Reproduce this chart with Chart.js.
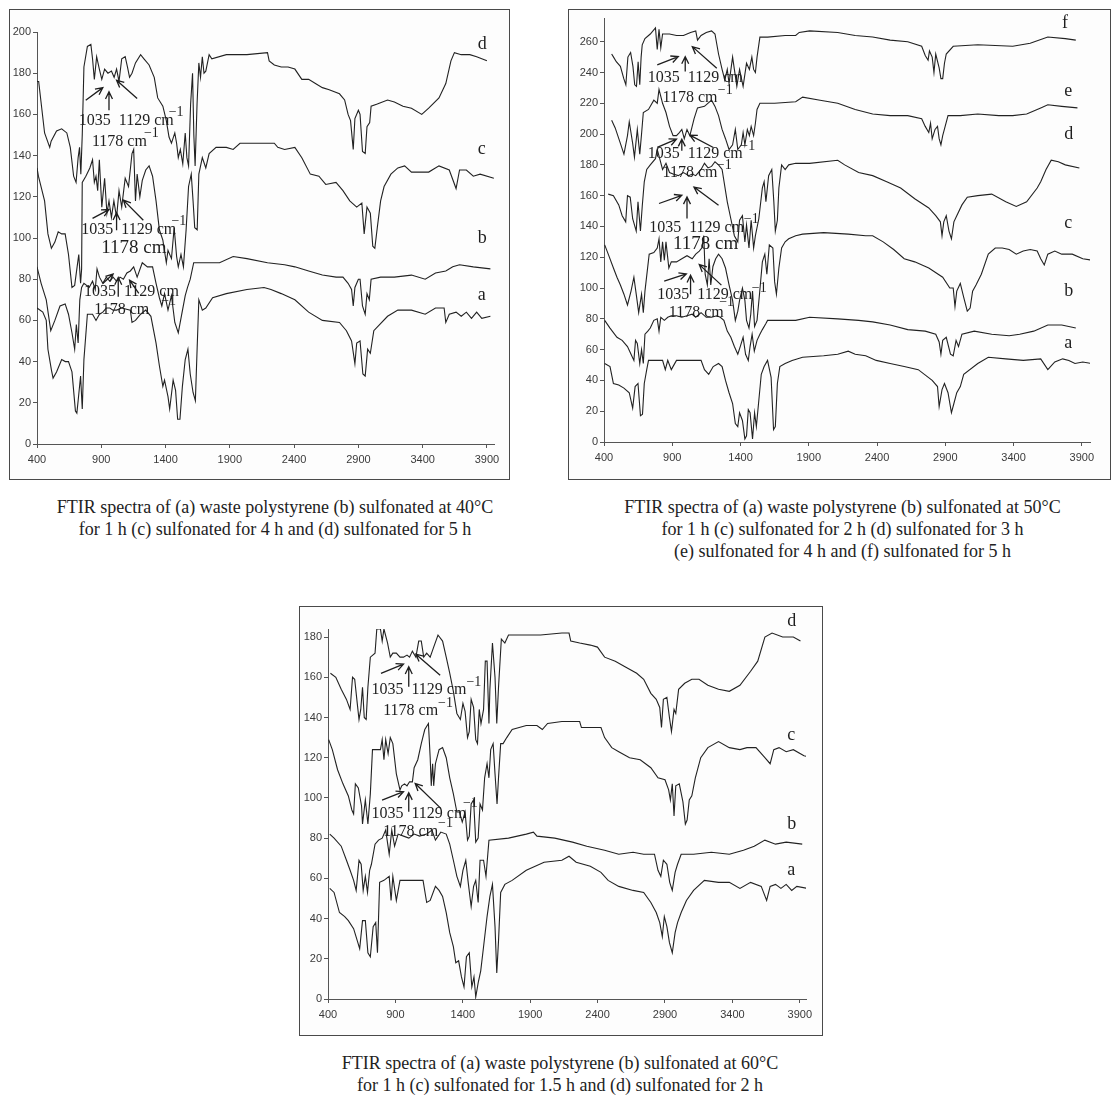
<!DOCTYPE html>
<html>
<head>
<meta charset="utf-8">
<script src="https://cdn.jsdelivr.net/npm/chart.js@4.4.0/dist/chart.umd.min.js"></script>
<style>
  body { margin: 0; background: #fff; width: 1115px; height: 1096px; position: relative; overflow: hidden; }
  .frame { position: absolute; border: 1px solid #4a4a4a; background: #fdfdfd; }
  .frame canvas { display: block; }
  .cap { position: absolute; font-family: "Liberation Serif", "Times New Roman", serif; font-size: 18px;
         color: #222; text-align: center; line-height: 22px; white-space: nowrap; }
</style>
</head>
<body>

<div class="frame" style="left:9px;top:9px;width:499px;height:469px"><canvas id="c40" width="499" height="469"></canvas></div>
<div class="frame" style="left:568px;top:9px;width:541px;height:469px"><canvas id="c50" width="541" height="469"></canvas></div>
<div class="frame" style="left:299px;top:606px;width:522px;height:428px"><canvas id="c60" width="522" height="428"></canvas></div>

<div class="cap" style="left:0px;top:496px;width:550px">FTIR spectra of (a) waste polystyrene (b) sulfonated at 40°C<br>for 1 h (c) sulfonated for 4 h and (d) sulfonated for 5 h</div>
<div class="cap" style="left:570px;top:496px;width:545px">FTIR spectra of (a) waste polystyrene (b) sulfonated at 50°C<br>for 1 h (c) sulfonated for 2 h (d) sulfonated for 3 h<br>(e) sulfonated for 4 h and (f) sulfonated for 5 h</div>
<div class="cap" style="left:285px;top:1052px;width:550px">FTIR spectra of (a) waste polystyrene (b) sulfonated at 60°C<br>for 1 h (c) sulfonated for 1.5 h and (d) sulfonated for 2 h</div>

<script>
// tick labels
const xTicks = [400, 900, 1400, 1900, 2400, 2900, 3400, 3900];
const yTicks40 = [0, 20, 40, 60, 80, 100, 120, 140, 160, 180, 200];
const yTicks50 = [0, 20, 40, 60, 80, 100, 120, 140, 160, 180, 200, 220, 240, 260];
const yTicks60 = [0, 20, 40, 60, 80, 100, 120, 140, 160, 180];

// 40 °C spectra  [wavenumber, transmittance]
const s40a = [[400,66],[445,64],[472,60],[485,46],[512,36],[525,32],[552,35],[592,41],[620,40],[645,40],[672,35],[699,16],[710,15],[720,21],[739,33],[752,17],[765,41],[792,63],[832,63],[859,60],[886,63],[912,64],[939,66],[966,66],[992,65],[1019,65],[1059,66],[1126,65],[1139,59],[1166,60],[1206,63],[1246,65],[1286,62],[1326,49],[1352,38],[1379,28],[1392,31],[1419,23],[1432,17],[1459,31],[1478,26],[1494,12],[1512,12],[1531,28],[1553,41],[1574,46],[1592,34],[1614,25],[1632,21],[1646,47],[1659,70],[1686,65],[1713,66],[1766,71],[1873,73],[2033,75],[2166,76],[2220,75],[2300,73],[2406,70],[2513,64],[2620,60],[2753,59],[2807,55],[2847,50],[2873,39],[2887,49],[2913,50],[2935,34],[2953,33],[2972,46],[2993,44],[3020,55],[3127,62],[3207,65],[3313,65],[3420,63],[3500,66],[3567,66],[3580,59],[3607,63],[3660,64],[3700,62],[3740,64],[3780,61],[3820,64],[3860,61],[3927,62]];
const s40b = [[400,86],[432,78],[472,70],[507,55],[539,60],[579,67],[619,68],[645,63],[672,54],[693,46],[706,58],[720,49],[733,70],[747,76],[765,78],[806,76],[832,79],[853,75],[867,85],[886,81],[912,78],[939,81],[966,79],[992,81],[1019,79],[1046,81],[1072,80],[1099,83],[1126,84],[1152,86],[1179,81],[1219,88],[1259,86],[1299,86],[1326,78],[1352,71],[1371,67],[1392,73],[1419,65],[1446,72],[1472,59],[1499,54],[1526,63],[1553,72],[1571,76],[1592,80],[1619,88],[1820,88],[1926,91],[2033,90],[2193,88],[2326,87],[2406,86],[2513,84],[2620,82],[2727,81],[2780,81],[2820,78],[2847,75],[2860,67],[2873,76],[2900,80],[2913,80],[2932,67],[2953,63],[2967,73],[2985,70],[2999,80],[3073,81],[3180,81],[3313,82],[3420,80],[3500,83],[3580,84],[3634,86],[3687,87],[3794,86],[3927,85]];
const s40c = [[400,134],[411,130],[459,118],[485,102],[512,95],[539,98],[565,103],[592,102],[619,102],[645,92],[672,76],[693,77],[712,86],[725,92],[739,78],[747,85],[752,127],[780,130],[811,134],[832,138],[846,127],[859,130],[872,123],[885,138],[904,115],[926,129],[944,112],[960,118],[979,110],[998,118],[1019,110],[1038,123],[1059,115],[1086,129],[1112,125],[1139,141],[1152,143],[1166,118],[1179,131],[1200,120],[1219,128],[1246,133],[1272,135],[1299,130],[1326,118],[1352,104],[1379,99],[1406,88],[1419,94],[1446,90],[1467,105],[1486,91],[1499,86],[1520,92],[1539,86],[1560,104],[1579,125],[1600,131],[1614,118],[1627,105],[1646,104],[1659,131],[1686,139],[1713,134],[1739,141],[1793,144],[1873,144],[1926,143],[1979,146],[2033,146],[2246,146],[2273,144],[2326,143],[2406,144],[2460,139],[2526,131],[2593,130],[2646,126],[2726,127],[2780,123],[2833,118],[2887,115],[2927,117],[2945,102],[2967,115],[2993,112],[3012,96],[3028,95],[3047,105],[3073,118],[3100,125],[3153,131],[3207,134],[3260,135],[3313,132],[3393,132],[3447,132],[3527,135],[3607,133],[3660,124],[3687,133],[3740,133],[3794,130],[3847,131],[3954,129]];
const s40d = [[400,176],[413,176],[459,151],[499,144],[510,147],[552,152],[592,153],[632,151],[659,144],[685,130],[704,127],[720,139],[731,144],[741,131],[752,150],[765,183],[792,193],[819,194],[832,187],[846,177],[864,188],[885,182],[904,177],[926,182],[952,180],[979,181],[1000,178],[1019,182],[1038,176],[1059,187],[1086,188],[1104,183],[1120,178],[1139,180],[1166,185],[1206,189],[1232,187],[1272,184],[1312,178],[1339,168],[1379,164],[1406,157],[1427,149],[1446,146],[1472,151],[1486,146],[1499,139],[1515,143],[1534,136],[1553,151],[1566,139],[1579,135],[1595,165],[1610,180],[1620,150],[1630,135],[1645,165],[1659,185],[1672,178],[1686,188],[1699,180],[1713,181],[1739,189],[1760,187],[1873,189],[2033,189],[2193,190],[2206,186],[2246,184],[2300,183],[2353,183],[2406,182],[2460,177],[2513,177],[2566,175],[2620,173],[2673,172],[2753,170],[2793,167],[2820,160],[2839,157],[2860,143],[2873,158],[2900,162],[2913,160],[2932,142],[2953,141],[2967,154],[2988,156],[2999,164],[3047,165],[3127,167],[3180,166],[3247,164],[3313,163],[3393,160],[3447,163],[3527,168],[3580,175],[3620,186],[3647,190],[3700,189],[3767,189],[3820,188],[3900,186]];

// 50 °C spectra
const s50a = [[405,51],[444,49],[469,38],[508,37],[546,35],[585,32],[610,22],[628,36],[649,38],[667,17],[682,18],[695,38],[713,47],[726,53],[777,53],[829,53],[849,47],[867,53],[893,47],[931,53],[982,53],[1060,53],[1111,53],[1136,47],[1167,44],[1200,49],[1239,51],[1265,49],[1290,40],[1316,32],[1342,25],[1362,12],[1380,10],[1393,19],[1414,14],[1432,2],[1444,4],[1457,21],[1470,19],[1488,2],[1503,19],[1516,10],[1534,27],[1552,44],[1573,49],[1598,53],[1624,42],[1642,8],[1655,10],[1670,38],[1688,49],[1727,51],[1778,53],[1855,55],[2009,56],[2112,57],[2189,59],[2240,57],[2317,56],[2394,53],[2496,51],[2599,49],[2702,47],[2804,40],[2843,36],[2855,23],[2876,34],[2894,38],[2920,32],[2945,19],[2963,25],[2984,32],[3010,36],[3035,44],[3138,51],[3215,55],[3343,54],[3471,53],[3599,54],[3651,47],[3702,52],[3760,54],[3805,53],[3850,51],[3907,52],[3970,51]];
const s50b = [[405,79],[444,74],[495,68],[533,66],[572,62],[598,57],[619,53],[631,66],[644,64],[662,51],[675,60],[688,51],[700,70],[721,72],[739,74],[765,79],[790,80],[803,72],[816,81],[842,79],[867,81],[893,82],[931,82],[970,81],[1008,82],[1046,83],[1072,81],[1111,84],[1149,81],[1188,81],[1226,82],[1252,81],[1278,79],[1303,72],[1329,68],[1355,62],[1380,57],[1398,62],[1419,68],[1437,57],[1457,53],[1470,62],[1485,70],[1501,59],[1521,66],[1542,70],[1560,73],[1586,77],[1598,79],[1804,79],[1906,81],[2112,80],[2265,79],[2368,78],[2496,76],[2625,73],[2753,72],[2830,70],[2855,65],[2868,57],[2881,66],[2907,68],[2938,57],[2958,56],[2979,66],[2997,62],[3022,70],[3112,72],[3240,70],[3368,69],[3445,70],[3548,72],[3651,76],[3753,76],[3856,74]];
const s50c = [[405,128],[431,122],[469,113],[495,107],[520,102],[546,96],[572,89],[598,98],[619,107],[636,96],[654,84],[675,96],[688,84],[700,98],[731,122],[765,123],[790,126],[803,132],[816,117],[829,130],[842,118],[854,130],[875,113],[893,117],[931,117],[970,119],[1008,121],[1046,119],[1072,122],[1098,124],[1116,126],[1131,134],[1141,109],[1157,102],[1170,119],[1182,102],[1198,114],[1218,119],[1239,122],[1265,119],[1290,113],[1316,102],[1342,92],[1362,79],[1380,85],[1393,92],[1414,100],[1432,92],[1444,79],[1462,74],[1475,83],[1488,98],[1503,75],[1521,79],[1539,96],[1560,117],[1578,122],[1593,109],[1611,128],[1637,126],[1650,104],[1663,96],[1681,113],[1701,126],[1727,130],[1753,132],[1804,134],[1855,135],[2009,136],[2189,135],[2317,134],[2368,134],[2445,130],[2522,125],[2599,119],[2676,117],[2779,113],[2881,107],[2933,100],[2958,100],[2971,88],[2984,98],[3010,103],[3035,94],[3061,85],[3082,87],[3100,98],[3125,102],[3164,109],[3215,122],[3266,126],[3317,126],[3368,125],[3420,122],[3471,124],[3522,125],[3573,124],[3599,119],[3625,115],[3651,122],[3702,124],[3753,122],[3830,122],[3907,119],[3985,118]];
const s50d = [[431,161],[469,160],[508,154],[533,147],[559,143],[572,160],[592,159],[610,145],[636,137],[649,156],[667,137],[680,153],[695,169],[713,177],[739,180],[777,184],[790,190],[808,184],[829,177],[854,181],[880,175],[906,174],[944,173],[982,175],[1021,173],[1046,174],[1072,173],[1111,177],[1136,181],[1162,178],[1188,179],[1213,182],[1239,180],[1265,177],[1303,156],[1329,145],[1355,134],[1380,130],[1393,144],[1414,147],[1432,130],[1444,141],[1462,126],[1478,144],[1496,126],[1509,134],[1534,145],[1560,165],[1573,169],[1586,156],[1606,173],[1629,177],[1644,156],[1655,137],[1670,144],[1681,165],[1701,180],[1727,177],[1753,180],[1804,181],[1906,181],[2112,183],[2163,180],[2265,175],[2368,173],[2471,169],[2573,165],[2676,158],[2779,152],[2830,147],[2864,143],[2876,134],[2889,143],[2907,147],[2927,137],[2945,132],[2963,143],[2984,147],[3022,154],[3061,159],[3138,160],[3240,161],[3343,156],[3420,153],[3496,156],[3573,165],[3599,169],[3638,177],[3676,183],[3728,182],[3779,180],[3882,178]];
const s50e = [[456,209],[482,204],[520,194],[546,187],[572,199],[585,208],[610,194],[623,185],[644,203],[662,187],[675,200],[688,214],[726,216],[765,222],[790,220],[803,229],[829,220],[854,214],[880,205],[906,199],[931,199],[952,201],[970,203],[988,197],[1008,203],[1029,199],[1060,210],[1085,217],[1136,218],[1188,222],[1213,218],[1239,212],[1265,203],[1290,197],[1316,190],[1342,193],[1362,203],[1380,190],[1406,193],[1419,201],[1432,193],[1450,203],[1465,199],[1478,205],[1496,199],[1509,207],[1521,216],[1542,220],[1650,220],[1804,221],[1855,224],[1983,222],[2112,220],[2240,216],[2368,213],[2496,212],[2625,212],[2727,210],[2753,205],[2779,201],[2792,207],[2804,197],[2825,203],[2843,205],[2855,197],[2868,193],[2881,199],[2899,205],[2920,212],[3010,212],[3138,213],[3292,212],[3394,212],[3496,213],[3599,217],[3651,219],[3753,218],[3868,217]];
const s50f = [[456,252],[470,250],[490,247],[520,244],[545,236],[560,232],[575,250],[595,253],[612,244],[625,232],[638,231],[650,247],[662,232],[672,250],[680,258],[700,262],[739,265],[777,269],[790,255],[803,268],[816,256],[829,265],[880,265],[931,264],[982,264],[1034,266],[1072,267],[1085,261],[1111,264],[1149,266],[1188,267],[1213,265],[1239,252],[1265,242],[1285,235],[1303,242],[1316,233],[1342,250],[1355,242],[1373,231],[1393,242],[1419,231],[1444,246],[1465,242],[1483,250],[1496,242],[1509,240],[1521,250],[1542,263],[1598,263],[1727,264],[1804,264],[1830,266],[1906,267],[2112,266],[2240,264],[2368,263],[2496,261],[2625,260],[2727,257],[2753,251],[2774,248],[2784,254],[2804,250],[2817,240],[2830,252],[2855,243],[2868,236],[2881,236],[2894,246],[2907,252],[2958,257],[3138,258],[3394,257],[3522,259],[3651,263],[3779,262],[3856,261]];

// 60 °C spectra
const s60a = [[413,55],[445,53],[485,43],[524,41],[551,39],[590,35],[617,29],[635,25],[656,39],[677,39],[696,23],[714,21],[735,36],[754,38],[767,23],[783,58],[815,59],[854,61],[868,49],[881,61],[907,49],[934,59],[973,59],[1026,59],[1105,59],[1132,48],[1158,49],[1197,56],[1224,54],[1250,51],[1277,43],[1303,33],[1330,26],[1348,18],[1369,19],[1390,11],[1409,6],[1427,21],[1448,23],[1467,6],[1483,11],[1496,1],[1514,8],[1533,14],[1554,26],[1580,41],[1601,51],[1620,57],[1639,36],[1652,13],[1665,29],[1681,53],[1712,57],[1766,59],[1871,64],[2003,68],[2135,69],[2188,71],[2241,68],[2346,66],[2425,63],[2478,59],[2557,56],[2663,54],[2742,53],[2795,48],[2835,43],[2861,38],[2880,31],[2895,41],[2914,36],[2933,28],[2954,23],[2975,33],[2993,38],[3020,43],[3059,49],[3112,54],[3192,59],[3297,58],[3377,58],[3456,55],[3535,58],[3614,56],[3654,49],[3680,56],[3720,57],[3760,55],[3799,57],[3840,54],[3878,56],[3957,55]];
const s60b = [[413,82],[445,80],[498,76],[537,69],[564,64],[590,59],[609,54],[630,69],[646,67],[661,54],[677,61],[693,53],[709,64],[722,67],[749,77],[775,79],[802,80],[828,84],[854,72],[873,84],[894,76],[920,82],[960,81],[1000,80],[1039,82],[1079,81],[1132,82],[1171,84],[1197,79],[1237,83],[1277,82],[1303,77],[1330,69],[1356,61],[1382,56],[1401,64],[1422,69],[1440,58],[1462,46],[1480,56],[1496,59],[1514,48],[1528,69],[1554,69],[1572,61],[1594,79],[1739,80],[1871,82],[1924,83],[1950,81],[2082,80],[2214,78],[2320,76],[2452,74],[2557,72],[2663,73],[2742,72],[2822,72],[2848,64],[2869,61],[2888,69],[2914,67],[2935,58],[2954,54],[2975,63],[2993,67],[3020,72],[3112,72],[3244,73],[3377,72],[3482,74],[3562,76],[3641,79],[3720,77],[3799,78],[3918,77]];
const s60c = [[405,129],[432,124],[471,114],[511,107],[551,101],[577,94],[590,92],[603,107],[625,105],[649,96],[656,87],[677,99],[696,87],[714,102],[730,124],[762,124],[789,124],[802,129],[815,119],[828,129],[846,122],[862,130],[881,127],[907,112],[934,104],[947,106],[968,107],[986,106],[1005,108],[1026,108],[1039,115],[1066,119],[1092,127],[1118,134],[1145,137],[1158,120],[1166,106],[1176,117],[1184,106],[1197,117],[1224,124],[1250,125],[1277,120],[1303,110],[1330,102],[1356,93],[1375,93],[1396,88],[1417,93],[1435,79],[1448,81],[1462,97],[1480,99],[1496,78],[1514,80],[1528,97],[1546,94],[1562,110],[1580,117],[1594,110],[1607,124],[1625,127],[1639,112],[1654,97],[1665,110],[1681,127],[1699,127],[1726,130],[1766,134],[1871,136],[1950,136],[1990,134],[2029,137],[2135,138],[2267,138],[2280,135],[2346,135],[2425,135],[2452,130],[2505,125],[2557,123],[2637,120],[2716,119],[2795,115],[2848,110],[2900,109],[2927,104],[2940,99],[2954,107],[2967,91],[2980,106],[3006,107],[3033,98],[3051,87],[3064,89],[3080,99],[3099,101],[3125,110],[3165,120],[3218,125],[3297,128],[3377,125],[3456,124],[3508,125],[3575,125],[3641,120],[3680,117],[3707,124],[3746,125],[3799,123],[3852,124],[3931,121],[3984,120]];
const s60d = [[418,162],[458,160],[498,154],[537,149],[564,144],[582,160],[598,159],[617,147],[630,139],[643,144],[656,155],[669,140],[683,139],[696,155],[714,170],[749,172],[762,184],[789,184],[802,178],[815,184],[842,177],[862,170],[881,172],[907,172],[934,170],[960,170],[986,171],[1005,170],[1026,173],[1052,170],[1073,178],[1092,178],[1110,170],[1132,172],[1158,170],[1184,175],[1216,181],[1250,178],[1277,170],[1303,162],[1330,153],[1356,142],[1382,139],[1401,147],[1417,143],[1435,130],[1448,133],[1462,149],[1480,145],[1496,129],[1509,127],[1522,144],[1535,137],[1554,144],[1567,168],[1580,168],[1594,137],[1601,154],[1620,177],[1639,160],[1652,137],[1665,155],[1686,179],[1712,177],[1739,181],[1766,181],[1871,181],[1977,181],[2135,182],[2188,182],[2201,178],[2267,177],[2346,176],[2399,175],[2452,170],[2531,168],[2610,165],[2690,162],[2742,159],[2795,152],[2835,149],[2861,145],[2874,135],[2888,149],[2914,150],[2933,140],[2948,133],[2967,144],[2980,142],[3001,154],[3046,157],[3099,159],[3152,159],[3218,156],[3297,154],[3377,153],[3456,156],[3535,163],[3588,168],[3641,180],[3694,182],[3773,180],[3852,180],[3905,178]];

// peak annotations: text at [x, y] in data units, arrows as [x1, y1, x2, y2] (tail -> head)
const M = '\u22121';
const notes40 = [
  ['1035  1129 cm', 725, 157, 16], [M, 1424, 161, 14], ['1178 cm', 827, 146.6, 16], [M, 1232, 151, 14],
  ['1035  1129 cm', 744, 104, 16], [M, 1446, 108, 14], ['1178 cm', 899, 95, 19],
  ['1035  1129 cm', 765, 74, 16], [M, 1366, 69.5, 14], ['1178 cm', 846, 65, 16],
  ['d', 3829, 194, 18], ['c', 3829, 143, 18], ['b', 3829, 100, 18], ['a', 3829, 72, 18]
];
const arrows40 = [
  [779, 166.9, 912, 173], [960, 162, 960, 171], [1179, 167.7, 1019, 176.6],
  [832, 109.5, 960, 113.8], [1019, 103.8, 1019, 112.2], [1227, 108.6, 1072, 118.4],
  [912, 77.9, 992, 82.5], [1032, 71.5, 1032, 80.8], [1192, 73.1, 1120, 79.5]
];
const notes50 = [
  ['1035  1129 cm', 721, 236.4, 16], [M, 1234, 228.4, 14], ['1178 cm', 829, 223.5, 16],
  ['1035  1129 cm', 721, 187, 16], [M, 1398, 192, 14], ['1178 cm', 829, 174.8, 16], [M, 1226, 180, 14],
  ['1035  1129 cm', 731, 139.2, 16], [M, 1424, 144.8, 14], ['1178 cm', 905, 128.5, 19],
  ['1035  1129 cm', 790, 95.9, 16], [M, 1483, 99.7, 14], ['1178 cm', 875, 84.1, 16], [M, 1244, 90.5, 14],
  ['f', 3754, 272, 18], ['e', 3772, 228, 18], ['d', 3772, 200, 18], ['c', 3772, 142, 18], ['b', 3772, 98, 18], ['a', 3772, 64, 18]
];
const arrows50 = [
  [790, 245, 944, 250.3], [995, 240.7, 995, 250.3], [1226, 242.8, 1047, 256.8],
  [790, 191.3, 931, 196.7], [970, 189.2, 970, 196.7], [1201, 191.3, 1029, 199.3],
  [803, 154.9, 970, 160.2], [1008, 145.2, 1008, 159.2], [1239, 153.8, 1059, 165.6],
  [841, 104.5, 1003, 109.2], [1034, 95.9, 1034, 108.3], [1260, 101.9, 1098, 115.2]
];
const notes60 = [
  ['1035  1129 cm', 722, 153.6, 16], [M, 1427, 157.7, 14], ['1178 cm', 809, 143.2, 16], [M, 1216, 147, 14],
  ['1035  1129 cm', 722, 92.3, 16], [M, 1401, 97.3, 14], ['1178 cm', 809, 83.2, 16], [M, 1216, 87.3, 14],
  ['d', 3807, 187.6, 18], ['c', 3807, 131, 18], ['b', 3807, 87, 18], ['a', 3807, 64, 18]
];
const arrows60 = [
  [793, 161.9, 960, 166.5], [999, 155.3, 999, 165.2], [1232, 161, 1052, 171.5],
  [801, 98.9, 960, 103.1], [999, 93.1, 999, 102.6], [1237, 94.8, 1047, 107.2]
];

function drawArrow(ctx, x1, y1, x2, y2) {
  const ang = Math.atan2(y2 - y1, x2 - x1);
  const L = 8, w = 0.45;
  ctx.beginPath();
  ctx.moveTo(x1, y1);
  ctx.lineTo(x2, y2);
  ctx.moveTo(x2 - L * Math.cos(ang - w), y2 - L * Math.sin(ang - w));
  ctx.lineTo(x2, y2);
  ctx.lineTo(x2 - L * Math.cos(ang + w), y2 - L * Math.sin(ang + w));
  ctx.stroke();
}

function notesPlugin(notes, arrows) {
  return {
    id: 'notes',
    afterDatasetsDraw(chart) {
      const ctx = chart.ctx, xs = chart.scales.x, ys = chart.scales.y;
      ctx.save();
      ctx.strokeStyle = '#1e1e1e';
      ctx.fillStyle = '#1e1e1e';
      ctx.lineWidth = 1.3;
      arrows.forEach(a => drawArrow(ctx, xs.getPixelForValue(a[0]), ys.getPixelForValue(a[1]),
                                         xs.getPixelForValue(a[2]), ys.getPixelForValue(a[3])));
      ctx.textBaseline = 'middle';
      notes.forEach(n => {
        ctx.font = n[3] + 'px "Liberation Serif", "Times New Roman", serif';
        ctx.fillText(n[0], xs.getPixelForValue(n[1]), ys.getPixelForValue(n[2]));
      });
      ctx.restore();
    }
  };
}

const axisFont = { family: '"Liberation Sans", Arial, sans-serif', size: 11 };

function makePanel(id, series, o) {
  new Chart(document.getElementById(id), {
    type: 'line',
    data: {
      datasets: series.map(s => ({
        data: s.map(p => ({ x: p[0], y: p[1] })),
        borderColor: '#222',
        borderWidth: 1.1,
        pointRadius: 0,
        tension: 0,
        fill: false
      }))
    },
    options: {
      responsive: false,
      animation: false,
      devicePixelRatio: 1,
      layout: { padding: { left: 0, top: o.padTop, right: o.padRight, bottom: 0 } },
      plugins: { legend: { display: false }, tooltip: { enabled: false } },
      scales: {
        x: {
          type: 'linear', min: 400, max: o.xMax,
          afterBuildTicks: s => { s.ticks = xTicks.map(v => ({ value: v })); },
          afterFit: s => { s.height = o.xH; },
          ticks: { autoSkip: false, maxRotation: 0, color: '#3a3a3a', font: axisFont, padding: 5,
                   callback: v => String(v) },
          grid: { drawOnChartArea: false, drawTicks: true, tickLength: 4, color: '#555' },
          border: { display: true, color: '#555', width: 1 }
        },
        y: {
          type: 'linear', min: 0, max: o.yMax,
          afterBuildTicks: s => { s.ticks = o.yTicks.map(v => ({ value: v })); },
          afterFit: s => { s.width = o.yW; },
          ticks: { autoSkip: false, color: '#3a3a3a', font: axisFont, padding: 2,
                   callback: v => String(v) },
          grid: { drawOnChartArea: false, drawTicks: true, tickLength: 4, color: '#555' },
          border: { display: true, color: '#555', width: 1 }
        }
      }
    },
    plugins: [notesPlugin(o.notes, o.arrows)]
  });
}

makePanel('c40', [s40a, s40b, s40c, s40d], {
  xMax: 3955, yMax: 200, yTicks: yTicks40, yW: 27, xH: 35, padTop: 22, padRight: 15,
  notes: notes40, arrows: arrows40
});
makePanel('c50', [s50a, s50b, s50c, s50d, s50e, s50f], {
  xMax: 3960, yMax: 275, yTicks: yTicks50, yW: 35, xH: 37, padTop: 5, padRight: 20,
  notes: notes50, arrows: arrows50
});
makePanel('c60', [s60a, s60b, s60c, s60d], {
  xMax: 3946, yMax: 184, yTicks: yTicks60, yW: 28, xH: 36, padTop: 22, padRight: 16,
  notes: notes60, arrows: arrows60
});
</script>
</body>
</html>
